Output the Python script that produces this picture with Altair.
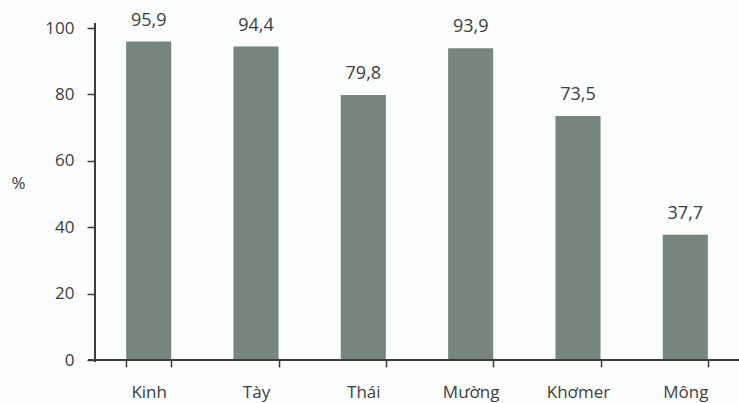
import altair as alt
import pandas as pd

# Share of each ethnic group (%)
groups = ["Kinh", "Tày", "Thái", "Mường", "Khơmer", "Mông"]
values = [95.9, 94.4, 79.8, 93.9, 73.5, 37.7]
y_ticks = [0, 20, 40, 60, 80, 100]

df = pd.DataFrame({"group": groups, "value": values})

W, H = 644, 332
FONT = "Open Sans"
TEXT = "#3d3d3d"
BAR = "#78877e"

x_enc = alt.X(
    "group:N",
    sort=groups,
    scale=alt.Scale(paddingInner=0.58, paddingOuter=0.29),
    axis=alt.Axis(
        title=None,
        labelAngle=0,
        domain=False,
        tickBand="extent",
        tickSize=7,
        tickColor=TEXT,
        tickWidth=1.5,
        labelPadding=17,
        labelFontSize=17,
        labelFont=FONT,
        labelColor=TEXT,
    ),
)
y_enc = alt.Y(
    "value:Q",
    scale=alt.Scale(domain=[0, 100], nice=False),
    axis=alt.Axis(
        title="%",
        titleAngle=0,
        titleX=-77,
        titleY=155,
        titleAlign="center",
        titleBaseline="middle",
        titleFont=FONT,
        titleFontSize=17,
        titleFontWeight="normal",
        titleColor=TEXT,
        values=y_ticks,
        domain=False,
        tickSize=8,
        tickColor=TEXT,
        tickWidth=1.5,
        labelPadding=13,
        labelFontSize=17,
        labelFont=FONT,
        labelColor=TEXT,
        grid=False,
    ),
)

bars = alt.Chart(df).mark_bar(color=BAR).encode(x=x_enc, y=y_enc)

labels = (
    alt.Chart(df)
    .transform_calculate(label="replace(format(datum.value, '.1f'), '.', ',')")
    .mark_text(dy=-12, baseline="bottom", font=FONT, fontSize=18, color=TEXT)
    .encode(x=alt.X("group:N", sort=groups), y="value:Q", text="label:N")
)

# axis lines, drawn slightly past the plot corner
x_line = alt.Chart(df).mark_rule(color=TEXT, strokeWidth=1.6).encode(
    x=alt.value(-7), x2=alt.value(W), y=alt.value(H)
)
y_line = alt.Chart(df).mark_rule(color=TEXT, strokeWidth=1.6).encode(
    x=alt.value(0), y=alt.value(-5), y2=alt.value(H + 2)
)

chart = (
    alt.layer(bars, labels, x_line, y_line)
    .properties(
        width=W,
        height=H,
        autosize=alt.AutoSizeParams(type="none"),
        padding={"left": 95, "top": 28, "right": 0, "bottom": 43},
        background="#fcfdfd",
    )
    .configure_view(stroke=None)
)

chart.save("out.html", embed_options={"renderer": "svg", "actions": False})
